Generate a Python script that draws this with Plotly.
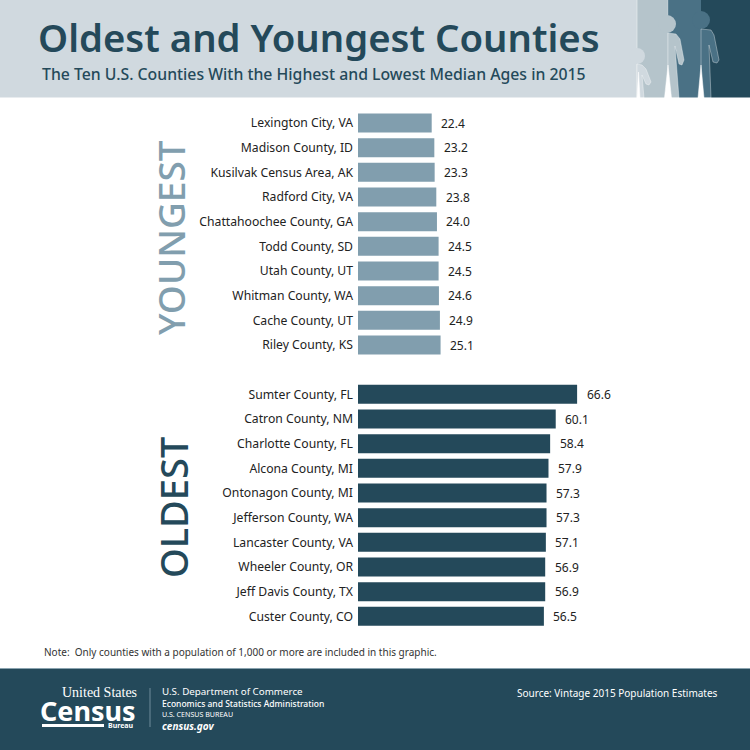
import plotly.graph_objects as go

young_names = ["Lexington City, VA", "Madison County, ID", "Kusilvak Census Area, AK", "Radford City, VA",
               "Chattahoochee County, GA", "Todd County, SD", "Utah County, UT", "Whitman County, WA",
               "Cache County, UT", "Riley County, KS"]
young_vals = [22.4, 23.2, 23.3, 23.8, 24.0, 24.5, 24.5, 24.6, 24.9, 25.1]
old_names = ["Sumter County, FL", "Catron County, NM", "Charlotte County, FL", "Alcona County, MI",
             "Ontonagon County, MI", "Jefferson County, WA", "Lancaster County, VA", "Wheeler County, OR",
             "Jeff Davis County, TX", "Custer County, CO"]
old_vals = [66.6, 60.1, 58.4, 57.9, 57.3, 57.3, 57.1, 56.9, 56.9, 56.5]

W = 750
DARK, MID, STEEL, PALE, LIGHT = "#24495a", "#4a7185", "#819eae", "#b5c4cb", "#d0d9df"
FONT = "Noto Sans"
INK = "#222222"

def px(x): return x / W
def py(y): return 1 - y / W

def rect(x0, y0, x1, y1, color):
    return dict(type="rect", xref="paper", yref="paper", x0=px(x0), x1=px(x1), y0=py(y0), y1=py(y1),
                fillcolor=color, line_width=0, layer="below")

def poly(pts, color, line="rgba(255,255,255,0.7)"):
    d = "M " + " L ".join(f"{px(a):.5f},{py(b):.5f}" for a, b in pts) + " Z"
    return dict(type="path", xref="paper", yref="paper", path=d, fillcolor=color,
                line=dict(color=line, width=0.5), layer="below")

def circle(cx, cy, r, color):
    return dict(type="circle", xref="paper", yref="paper", x0=px(cx - r), x1=px(cx + r),
                y0=py(cy + r), y1=py(cy - r), fillcolor=color, line_width=0, layer="below")

shapes = [
    rect(0, 0, 750, 98, LIGHT),
    rect(637, 0, 668, 98, PALE),
    rect(668, 0, 701, 98, MID),
    rect(701, 0, 750, 98, DARK),
    rect(636.7, 0, 637.4, 98, "rgba(255,255,255,0.6)"),
    rect(667.7, 0, 668.3, 98, "rgba(255,255,255,0.4)"),
    circle(637, 56, 8, LIGHT),
    poly([(637, 64), (642, 65), (646, 69), (651, 82), (649, 85), (646, 84), (642, 75), (644, 98), (637, 98)], LIGHT),
    circle(667, 24, 9, PALE),
    poly([(668, 33), (676, 34), (680, 39), (684, 60), (682, 65), (679, 64), (675, 46), (679, 98), (668, 98)], PALE),
    circle(701, 20, 9, MID),
    poly([(701, 29), (711, 30), (714, 35), (719, 60), (717, 63), (713, 62), (709, 45), (711, 98), (701, 98)], MID),
    poly([(668, 65), (671.5, 98), (664.5, 98)], "#ffffff", "#ffffff"),
    poly([(701, 65), (704, 98), (698, 98)], "#ffffff", "#ffffff"),
    poly([(638.5, 72), (640, 98), (637, 98)], "#ffffff", "#ffffff"),
    rect(0, 97.5, 750, 99, "#ffffff"),
    rect(0, 668, 750, 750, DARK),
    rect(0, 668, 750, 669, "#8aa3af"),
    rect(149.5, 688, 150.5, 727, "#6f8b99"),
    rect(42, 724, 104, 727, "#ffffff"),
]

fig = go.Figure()
order = young_names + [" "] + old_names
for names, vals, color in [(young_names, young_vals, STEEL), (old_names, old_vals, DARK)]:
    fig.add_trace(go.Bar(y=names, x=vals, orientation="h", marker=dict(color=color, line_width=0),
                         cliponaxis=False, hoverinfo="skip"))

annots = []
for names, vals in [(young_names, young_vals), (old_names, old_vals)]:
    for n, v in zip(names, vals):
        annots.append(dict(x=v, y=n, xref="x", yref="y", text=f"{v:.1f}", showarrow=False, xanchor="left",
                           xshift=7.5, font=dict(family=FONT, size=12, color=INK)))

def label(x, y, text, size, color, anchor="left", weight=400, family=FONT, angle=0):
    annots.append(dict(x=px(x), y=py(y), xref="paper", yref="paper", text=text, showarrow=False,
                       xanchor=anchor, yanchor="middle", textangle=angle, borderpad=0,
                       font=dict(family=family, size=size, color=color, weight=weight)))

label(37, 37, "Oldest and Youngest Counties", 38.3, DARK, weight=600)
label(41, 74, "The Ten U.S. Counties With the Highest and Lowest Median Ages in 2015", 15.8, DARK, weight=500)
label(170, 238, "YOUNGEST", 37, STEEL, "center", weight=500, angle=-90)
label(173, 508, "OLDEST", 38, DARK, "center", weight=500, angle=-90)
label(43, 652, "Note:  Only counties with a population of 1,000 or more are included in this graphic.", 10, "#333333")
label(516, 693, "Source: Vintage 2015 Population Estimates", 10, "#ffffff")
label(138, 692, "United States", 14, "#ffffff", "right", weight=400, family="Liberation Serif")
label(137, 710, "Census", 27, "#ffffff", "right", weight=700)
label(135, 725, "Bureau", 7, "#ffffff", "right", weight=700)
label(161, 691.5, "U.S. Department of Commerce", 9.8, "#ffffff")
label(161, 703, "Economics and Statistics Administration", 8.5, "#ffffff", weight=500)
label(161, 713.5, "U.S. CENSUS BUREAU", 7.1, "#ffffff")
label(161, 725.5, "<i>census.gov</i>", 10, "#ffffff", weight=700)

fig.update_layout(
    width=750, height=750, autosize=False, margin=dict(l=0, r=0, t=0, b=0),
    paper_bgcolor="#ffffff", plot_bgcolor="rgba(0,0,0,0)", showlegend=False, bargap=0.23,
    shapes=shapes, annotations=annots,
    xaxis=dict(domain=[px(358), 1], range=[0, 392 / 3.29], visible=False),
    yaxis=dict(domain=[py(628.7), py(110.7)], type="category", categoryorder="array", categoryarray=order,
               range=[20.5, -0.5], showgrid=False, zeroline=False, showline=False, ticks="", automargin=False,
               ticklabelstandoff=4, tickfont=dict(family=FONT, size=12.2, color=INK)),
)
fig.write_html("out.html", config={"displayModeBar": False},
               post_script="document.body.style.margin='0';document.documentElement.style.overflow='hidden';")
